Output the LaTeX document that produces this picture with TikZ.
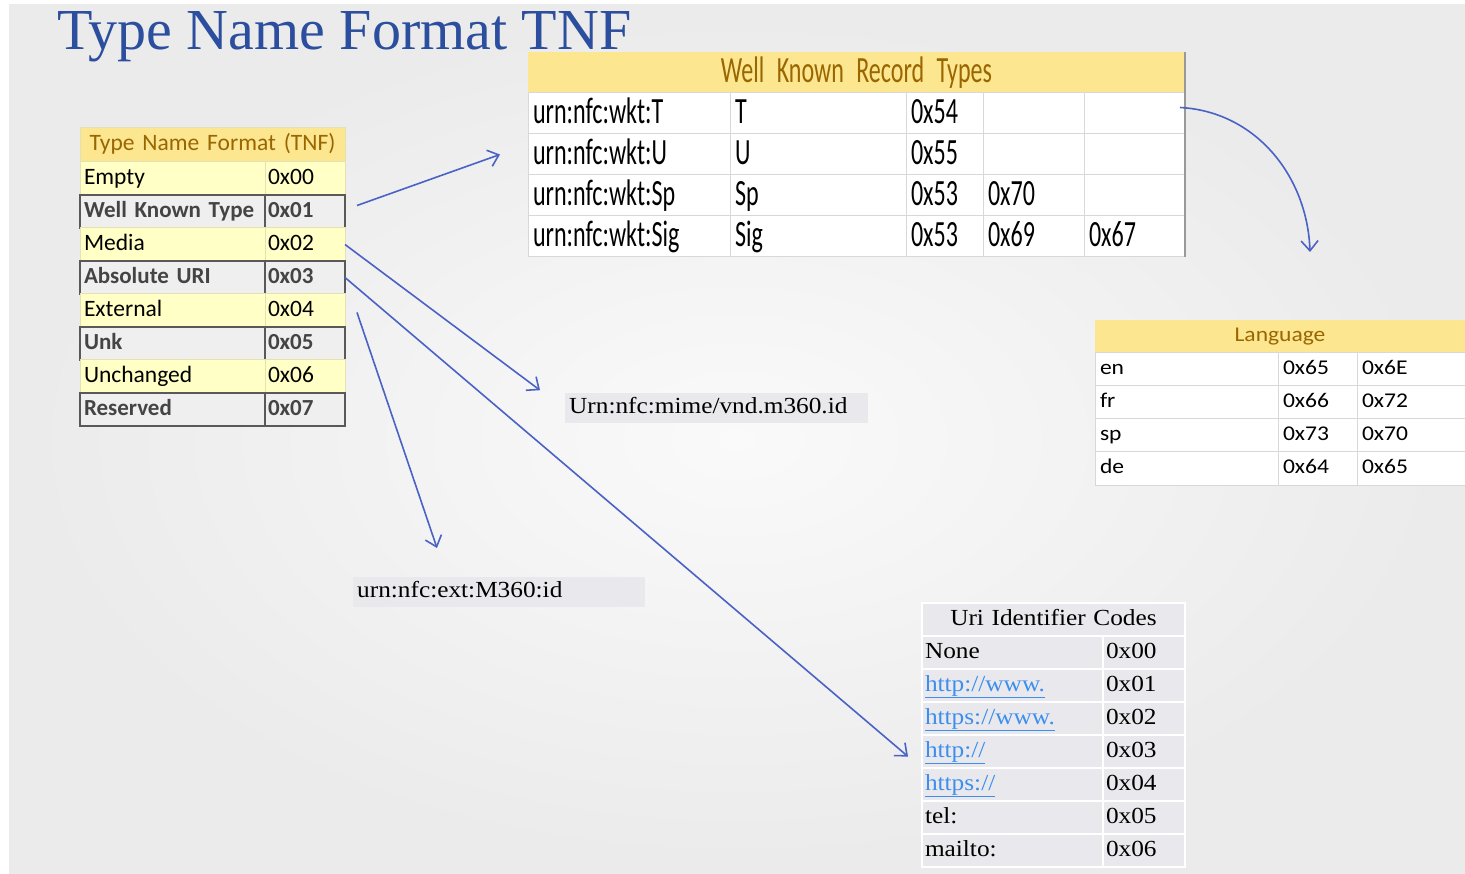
\documentclass[tikz,border=0pt]{standalone}
\usepackage{fontspec}
\usetikzlibrary{arrows.meta}
\setmainfont{Liberation Serif}
\newfontfamily\calfont{Carlito}
\newfontfamily\narrowfont[FakeStretch=0.65]{Carlito}
\newfontfamily\widefont[FakeStretch=1.12]{Carlito}
\newfontfamily\bookfont[FakeStretch=1.1]{Liberation Serif}
\definecolor{titleblue}{HTML}{2C4E9E}
\definecolor{arrowblue}{HTML}{4A62C5}
\definecolor{headyel}{HTML}{FCE690}
\definecolor{headtext}{HTML}{9A6600}
\definecolor{rowyel}{HTML}{FFFFC6}
\definecolor{rowyeldraw}{HTML}{E4E2B4}
\definecolor{rowgray}{HTML}{EFEFEF}
\definecolor{rowdark}{HTML}{595959}
\definecolor{rowtext}{HTML}{444444}
\definecolor{gridgray}{HTML}{D8D8D8}
\definecolor{uricell}{HTML}{E9E9ED}
\definecolor{linkblue}{HTML}{3D8FEF}
\newcommand{\uriLink}[1]{\textcolor{linkblue}{\underline{#1}}}
\newcommand{\tightSpace}[1]{\spaceskip=#1\relax}
\begin{document}
\begin{tikzpicture}[x=1pt,y=-1pt]
        \tikzstyle{cell}=[anchor=north west, inner xsep=5pt, inner ysep=0pt, outer sep=0pt, align=left]
        \tikzstyle{tnfy}=[cell, fill=rowyel, draw=rowyeldraw, line width=1pt, minimum height=33pt, text height=17pt, text depth=5pt, font=\calfont\fontsize{23.5}{26}\selectfont\tightSpace{4.5pt}]
        \tikzstyle{tnfg}=[cell, fill=rowgray, draw=rowdark, line width=1.6pt, minimum height=33pt, text height=17pt, text depth=5pt, text=rowtext, font=\calfont\bfseries\fontsize{23}{26}\selectfont\tightSpace{4.5pt}]
        \tikzstyle{wkt}=[cell, fill=white, draw=gridgray, line width=1pt, minimum height=41pt, text height=27pt, text depth=7pt, font=\narrowfont\fontsize{37}{40}\selectfont\tightSpace{5pt}]
        \tikzstyle{lang}=[cell, fill=white, draw=gridgray, line width=1pt, minimum height=33pt, text height=16pt, text depth=5pt, font=\widefont\fontsize{21}{24}\selectfont]
        \tikzstyle{uri}=[cell, inner xsep=3pt, fill=uricell, draw=white, line width=2.5pt, minimum height=33pt, text height=17pt, text depth=6pt, font=\bookfont\fontsize{23}{26}\selectfont]
        \tikzstyle{head}=[cell, align=center, fill=headyel, text=headtext]
        \tikzstyle{label}=[anchor=north west, align=left, inner xsep=4pt, inner ysep=0pt, fill=uricell, minimum height=30pt, text height=17pt, text depth=6pt, font=\bookfont\fontsize{23}{26}\selectfont]
        \tikzstyle{link}=[draw=arrowblue, line width=1.6pt, -{Straight Barb[length=10pt,width=17pt]}]
        % slide background
        \useasboundingbox (0,0) rectangle (1465,874);
        \fill[white] (0,0) rectangle (1465,874);
        \shade[inner color=white!98!black, outer color=white!92!black] (9,5) rectangle (1465,874);
        % title
        \node [anchor=base west, inner sep=0pt, text=titleblue, font=\fontsize{58}{62}\selectfont] (title) at (57,50) {Type Name Format TNF};
        % TNF table
        \node [tnfy, head, minimum width=265pt, text width=255pt, minimum height=34pt] (tnfh) at (80,128) {Type Name Format (TNF)};
        \foreach \i/\nm/\cd/\st in {1/Empty/0x00/tnfy, 2/Well Known Type/0x01/tnfg, 3/Media/0x02/tnfy, 4/Absolute URI/0x03/tnfg, 5/External/0x04/tnfy, 6/Unk/0x05/tnfg, 7/Unchanged/0x06/tnfy, 8/Reserved/0x07/tnfg} {
          \node [\st, minimum width=185pt, text width=177pt, inner xsep=3pt] (tnfn\i) at (80,{129+33*\i}) {\nm};
          \node [\st, minimum width=80pt, text width=74pt, inner xsep=3pt] (tnfc\i) at (265,{129+33*\i}) {\cd};
        }
        % well known record types
        \node [wkt, head, minimum width=657pt, text width=647pt, draw=none] (wkth) at (528,52) {Well Known Record Types};
        \foreach \i/\a/\b/\c/\d/\e in {1/urn:nfc:wkt:T/T/0x54/{}/{}, 2/urn:nfc:wkt:U/U/0x55/{}/{}, 3/urn:nfc:wkt:Sp/Sp/0x53/0x70/{}, 4/urn:nfc:wkt:Sig/Sig/0x53/0x69/0x67} {
          \node [wkt, minimum width=202pt, text width=192pt] (wkta\i) at (528,{52+41*\i}) {\a};
          \node [wkt, minimum width=176pt, text width=166pt] (wktb\i) at (730,{52+41*\i}) {\b};
          \node [wkt, minimum width=77pt, text width=67pt] (wktc\i) at (906,{52+41*\i}) {\c};
          \node [wkt, minimum width=101pt, text width=91pt] (wktd\i) at (983,{52+41*\i}) {\d};
          \node [wkt, minimum width=101pt, text width=91pt] (wkte\i) at (1084,{52+41*\i}) {\e};
        }
        \draw [line width=2.5pt, black!40] (wkth.north east) -- (wkte4.south east);
        % language
        \node [lang, head, minimum width=370pt, text width=360pt, draw=none] (langh) at (1095,320) {Language};
        \foreach \i/\a/\b/\c in {1/en/0x65/0x6E, 2/fr/0x66/0x72, 3/sp/0x73/0x70, 4/de/0x64/0x65} {
          \node [lang, minimum width=183pt, text width=173pt] (langa\i) at (1095,{320+33*\i}) {\a};
          \node [lang, minimum width=79pt, text width=69pt] (langb\i) at (1278,{320+33*\i}) {\b};
          \node [lang, minimum width=108pt, text width=98pt] (langc\i) at (1357,{320+33*\i}) {\c};
        }
        % uri identifier codes
        \node [uri, align=center, minimum width=263pt, text width=257pt] (urih) at (922,603) {Uri Identifier Codes};
        \foreach \i/\a/\b in {1/None/0x00, 2/\uriLink{http://www.}/0x01, 3/\uriLink{https://www.}/0x02, 4/\uriLink{http://}/0x03, 5/\uriLink{https://}/0x04, 6/tel:/0x05, 7/mailto:/0x06} {
          \node [uri, minimum width=181pt, text width=175pt] (uria\i) at (922,{603+33*\i}) {\a};
          \node [uri, minimum width=82pt, text width=76pt] (urib\i) at (1103,{603+33*\i}) {\b};
        }
        % record type labels
        \node [label, minimum width=303pt, text width=295pt] (mime) at (565,393) {Urn:nfc:mime/vnd.m360.id};
        \node [label, minimum width=292pt, text width=284pt] (ext) at (353,577) {urn:nfc:ext:M360:id};
        % arrows
        \coordinate (s1) at ([shift={(12,-6)}]tnfc2.east);
        \coordinate (e1) at ([xshift=-28]wkta2.west);
        \coordinate (e2) at ([shift={(-25,-18)}]mime.west);
        \coordinate (e3) at ([shift={(-14,5)}]uria4.west);
        \coordinate (s4) at ([shift={(12,2)}]tnfc5.east);
        \coordinate (e4) at ([shift={(84,-29)}]ext.north west);
        \coordinate (s5) at ([shift={(-5,-6)}]wkte1.east);
        \coordinate (e5) at ([shift={(30,-68)}]langh.north);
        \draw[link] (s1) -- (e1);
        \draw[link] (tnfc3.east) -- (e2);
        \draw[link] (tnfc4.east) -- (e3);
        \draw[link] (s4) -- (e4);
        \draw[link] (s5) to [out=-3, in=92] (e5);
\end{tikzpicture}
\end{document}
